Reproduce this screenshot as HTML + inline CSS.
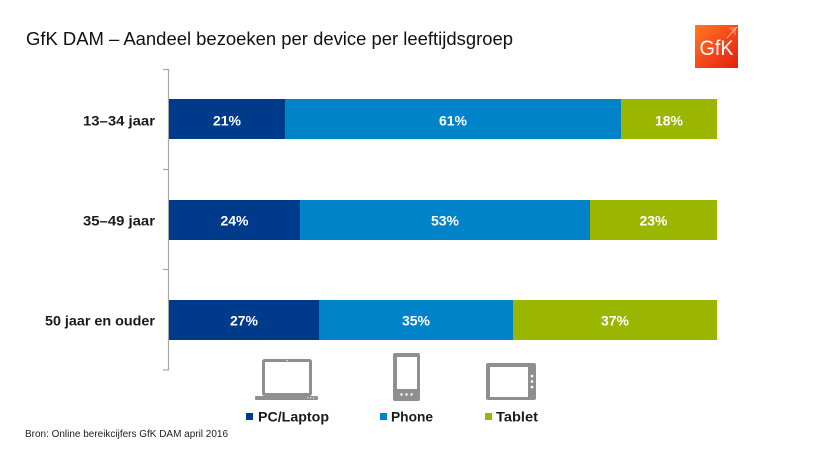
<!DOCTYPE html>
<html><head><meta charset="utf-8"><style>
html,body{margin:0;padding:0;background:#fff;}
svg{display:block;}
text{font-family:"Liberation Sans",Arial,sans-serif;}
</style></head><body>
<svg width="831" height="452" viewBox="0 0 831 452" xmlns="http://www.w3.org/2000/svg">
<defs>
<linearGradient id="lg" x1="0" y1="0" x2="1" y2="1">
<stop offset="0" stop-color="#ff7a22"/>
<stop offset="0.55" stop-color="#f4441a"/>
<stop offset="1" stop-color="#e0200f"/>
</linearGradient>
</defs>
<rect width="831" height="452" fill="#fff"/>
<text x="26" y="45" font-size="18.5" fill="#111" textLength="487" lengthAdjust="spacingAndGlyphs">GfK DAM – Aandeel bezoeken per device per leeftijdsgroep</text>
<!-- logo -->
<rect x="695" y="25" width="43" height="43" fill="url(#lg)"/>
<path d="M728 27 L736 27 L736 36 Z" fill="#ff9a60" opacity="0.5"/>
<line x1="727" y1="38" x2="737" y2="27" stroke="#fff" stroke-width="0.8" opacity="0.8"/>
<text x="716.5" y="55" font-size="21" fill="#fff" text-anchor="middle" textLength="34" lengthAdjust="spacingAndGlyphs">GfK</text>
<!-- axis -->
<g stroke="#a6a6a6" stroke-width="1.2">
<line x1="168.5" y1="69" x2="168.5" y2="370.5"/>
<line x1="163" y1="69.5" x2="169" y2="69.5"/>
<line x1="163" y1="169.5" x2="169" y2="169.5"/>
<line x1="163" y1="269.5" x2="169" y2="269.5"/>
<line x1="163" y1="370" x2="169" y2="370"/>
</g>
<!-- bars -->
<rect x="169" y="99" width="116" height="40" fill="#003a8a"/>
<rect x="285" y="99" width="336" height="40" fill="#0083c9"/>
<rect x="621" y="99" width="96" height="40" fill="#9bb600"/>
<rect x="169" y="200" width="131" height="40" fill="#003a8a"/>
<rect x="300" y="200" width="290" height="40" fill="#0083c9"/>
<rect x="590" y="200" width="127" height="40" fill="#9bb600"/>
<rect x="169" y="300" width="150" height="40" fill="#003a8a"/>
<rect x="319" y="300" width="194" height="40" fill="#0083c9"/>
<rect x="513" y="300" width="204" height="40" fill="#9bb600"/>
<g font-size="14" font-weight="bold" fill="#fff" text-anchor="middle">
<text x="227" y="125.5">21%</text>
<text x="453" y="125.5">61%</text>
<text x="669" y="125.5">18%</text>
<text x="234.5" y="225.5">24%</text>
<text x="445" y="225.5">53%</text>
<text x="653.5" y="225.5">23%</text>
<text x="244" y="325.5">27%</text>
<text x="416" y="325.5">35%</text>
<text x="615" y="325.5">37%</text>
</g>
<!-- category labels -->
<g font-size="14" font-weight="bold" fill="#1a1a1a" text-anchor="end">
<text x="155" y="125.5" textLength="72" lengthAdjust="spacingAndGlyphs">13–34 jaar</text>
<text x="155" y="225.5" textLength="72" lengthAdjust="spacingAndGlyphs">35–49 jaar</text>
<text x="155" y="325.5" textLength="110" lengthAdjust="spacingAndGlyphs">50 jaar en ouder</text>
</g>
<!-- laptop icon -->
<rect x="263.5" y="360.5" width="47" height="34" fill="none" stroke="#8f8f8f" stroke-width="3" rx="1"/>
<rect x="255" y="396" width="63" height="4" fill="#8f8f8f" rx="1"/>
<circle cx="287" cy="360.5" r="0.7" fill="#fff"/>
<g fill="#d8d8d8"><rect x="307" y="397" width="1.4" height="1.4"/><rect x="310" y="397" width="1.4" height="1.4"/><rect x="313" y="397" width="1.4" height="1.4"/></g>
<!-- phone icon -->
<rect x="393" y="353" width="27" height="48" fill="#8f8f8f" rx="2"/>
<rect x="397" y="357" width="20" height="32" fill="#fff"/>
<g fill="#fff"><circle cx="401.5" cy="394.5" r="1.2"/><circle cx="406.5" cy="394.5" r="1.2"/><circle cx="411.5" cy="394.5" r="1.2"/></g>
<!-- tablet icon -->
<rect x="486" y="363" width="50" height="37" fill="#8f8f8f" rx="2"/>
<rect x="490" y="367" width="38" height="30" fill="#fff"/>
<g fill="#fff"><circle cx="532" cy="376" r="1.3"/><circle cx="532" cy="381.5" r="1.3"/><circle cx="532" cy="387" r="1.3"/></g>
<!-- legend -->
<rect x="246" y="413" width="7" height="7" fill="#003a8a"/>
<text x="258" y="421.5" font-size="14" font-weight="bold" fill="#1a1a1a" textLength="71" lengthAdjust="spacingAndGlyphs">PC/Laptop</text>
<rect x="380" y="413" width="7" height="7" fill="#0083c9"/>
<text x="391" y="421.5" font-size="14" font-weight="bold" fill="#1a1a1a" textLength="42" lengthAdjust="spacingAndGlyphs">Phone</text>
<rect x="485" y="413" width="7" height="7" fill="#9bb600"/>
<text x="496" y="421.5" font-size="14" font-weight="bold" fill="#1a1a1a" textLength="42" lengthAdjust="spacingAndGlyphs">Tablet</text>
<!-- source -->
<text x="25" y="437" font-size="10" fill="#222" textLength="203" lengthAdjust="spacingAndGlyphs">Bron: Online bereikcijfers GfK DAM april 2016</text>
</svg>
</body></html>
